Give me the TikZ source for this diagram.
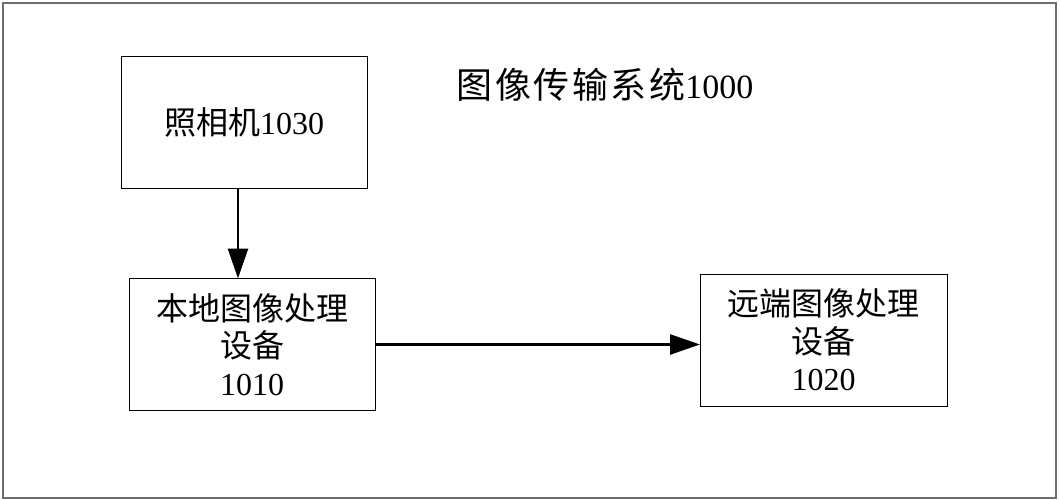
\documentclass[tikz,border=0pt]{standalone}
\usepackage{fontspec}
\setmainfont{Liberation Serif}
\newfontfamily\cjk{Noto Sans CJK SC}
\newfontfamily\cjkwide[LetterSpace=7]{Noto Sans CJK SC}
\usepackage{tikz}
\usetikzlibrary{arrows.meta, positioning}
\definecolor{framegray}{HTML}{6e6e6e}

\begin{document}
\begin{tikzpicture}[
  x=1pt, y=-1pt,
  unit/.style={
    rectangle, draw=black, line width=0.9pt,
    inner sep=0pt, outer sep=0pt, align=center,
    minimum width=246pt, minimum height=132pt,
    font=\fontsize{32}{37.5}\selectfont},
  flow/.style={-{Triangle[length=30pt, width=20pt]}, line width=2.6pt, black},
  caption/.style={font=\fontsize{34}{38}\selectfont},
]
  \useasboundingbox (0,0) rectangle (1060,500);
  \draw[framegray, line width=2pt] (3,3) rectangle (1056,498);

  \node[caption] (title) at (605,85) {{\fontsize{36}{38}\cjkwide 图像传输系统}1000};

  \node[unit] (cam) at (244,122) {{\cjk 照相机}1030};
  \node[unit] (local) at (252,344.5) {{\cjk 本地图像处理}\\{\cjk 设备}\\1010};
  \node[unit, minimum width=247pt] (remote) at (823.5,340) {{\cjk 远端图像处理}\\{\cjk 设备}\\1020};

  % Links
  \draw[flow] ([xshift=-6pt]cam.south) -- ([xshift=-6pt]cam.south |- local.north);
  \draw[flow] (local.east) -- (local.east -| remote.west);
\end{tikzpicture}
\end{document}
